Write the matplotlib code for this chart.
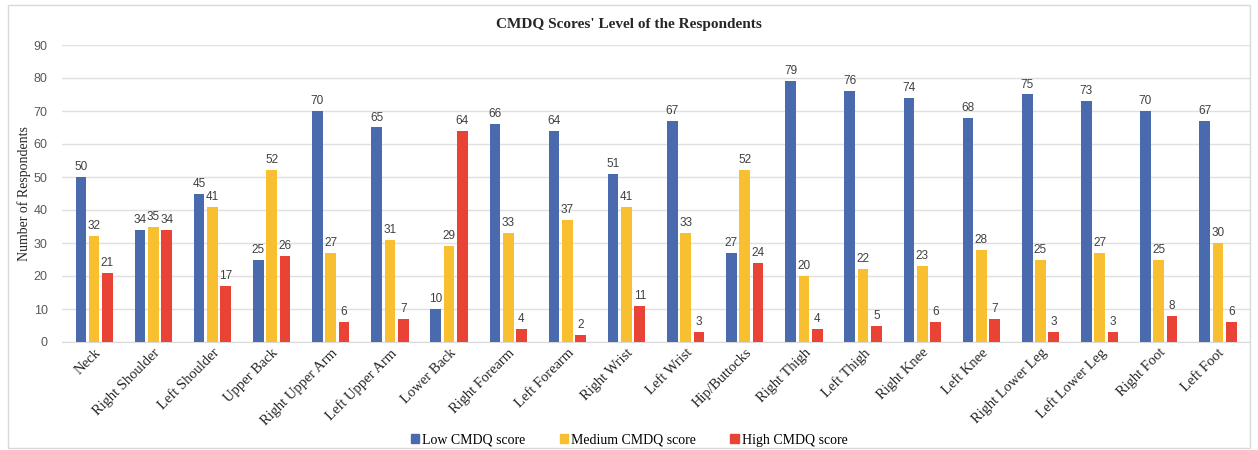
import matplotlib
matplotlib.use("Agg")
import matplotlib.pyplot as plt
import numpy as np
from matplotlib.patches import Rectangle

categories = ["Neck", "Right Shoulder", "Left Shoulder", "Upper Back", "Right Upper Arm",
              "Left Upper Arm", "Lower Back", "Right Forearm", "Left Forearm", "Right Wrist",
              "Left Wrist", "Hip/Buttocks", "Right Thigh", "Left Thigh", "Right Knee",
              "Left Knee", "Right Lower Leg", "Left Lower Leg", "Right Foot", "Left Foot"]
low = [50, 34, 45, 25, 70, 65, 10, 66, 64, 51, 67, 27, 79, 76, 74, 68, 75, 73, 70, 67]
medium = [32, 35, 41, 52, 27, 31, 29, 33, 37, 41, 33, 52, 20, 22, 23, 28, 25, 27, 25, 30]
high = [21, 34, 17, 26, 6, 7, 64, 4, 2, 11, 3, 24, 4, 5, 6, 7, 3, 3, 8, 6]
series_names = ["Low CMDQ score", "Medium CMDQ score", "High CMDQ score"]
colors = ["#4A6AAE", "#F8BF30", "#E94336"]

fig = plt.figure(figsize=(12.58, 4.5), dpi=100)
fig.patches.append(Rectangle((0.006, 0.004), 0.988, 0.985, transform=fig.transFigure,
                             fill=False, edgecolor="#D9D9D9", linewidth=1))
ax = fig.add_axes([0.049, 0.24, 0.945, 0.66])

x = np.arange(len(categories))
w = 0.18
step = 0.225
serif = "Liberation Serif"
sans = "Liberation Sans"
for i, (vals, c, name) in enumerate(zip([low, medium, high], colors, series_names)):
    pos = x + (i - 1) * step
    bars = ax.bar(pos, vals, width=w, color=c, label=name, zorder=3)
    for b, v in zip(bars, vals):
        ax.text(b.get_x() + b.get_width() / 2, v + 1.2, str(v), ha="center", va="bottom",
                fontsize=8.5, color="#404040", family=sans)

ax.set_ylim(0, 90)
ax.set_xlim(-0.55, len(categories) - 0.45)
ax.set_yticks(range(0, 91, 10))
ax.tick_params(axis="y", length=0, labelsize=9, labelcolor="#595959", pad=10)
for lab in ax.get_yticklabels():
    lab.set_family(sans)
ax.tick_params(axis="x", length=0, pad=3)
ax.set_xticks(x)
ax.set_xticklabels(categories, rotation=45, ha="right", rotation_mode="anchor",
                   fontsize=10.5, family=serif, color="#262626")
ax.grid(axis="y", color="#E0E0E0", linewidth=1, zorder=0)
for s in ["top", "right", "left"]:
    ax.spines[s].set_visible(False)
ax.spines["bottom"].set_color("#D9D9D9")
ax.set_ylabel("Number of Respondents", family=serif, fontsize=10, color="#262626", labelpad=2)

fig.text(0.5, 0.945, "CMDQ Scores' Level of the Respondents", ha="center", va="center",
         family=serif, fontsize=11, fontweight="bold", color="#262626")

handles = [Rectangle((0, 0), 1, 1, color=c) for c in colors]
fig.legend(handles, series_names, loc="center", bbox_to_anchor=(0.5, 0.022), ncol=3,
           frameon=False, prop={"family": serif, "size": 10}, handlelength=0.6,
           handleheight=0.6, handletextpad=0.2, columnspacing=2.5)

fig.savefig("out.png", dpi=100)
